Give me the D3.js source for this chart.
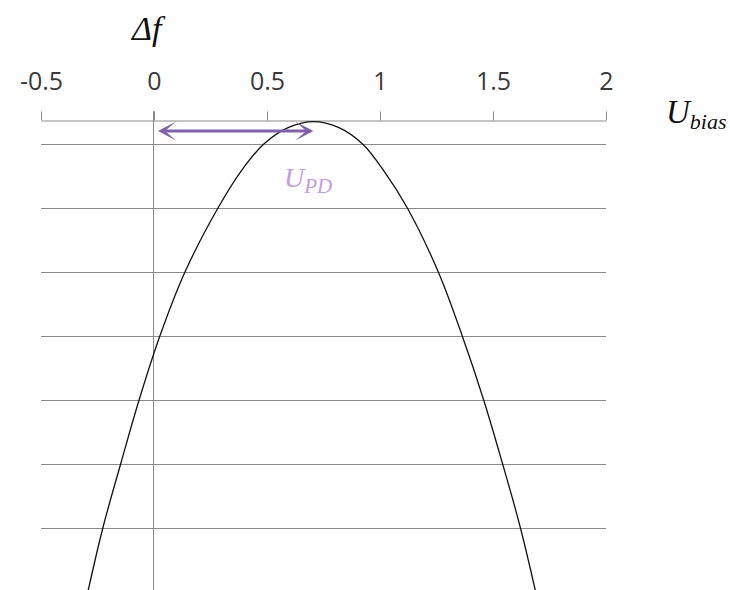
<!DOCTYPE html>
<html>
<head>
<meta charset="utf-8">
<script src="https://cdn.jsdelivr.net/npm/d3@7/dist/d3.min.js"></script>
<style>
  html, body { margin: 0; padding: 0; background: #fff; }
  svg { display: block; }
</style>
</head>
<body>
<svg id="chart" width="730" height="590"></svg>
<script>
// Bias voltage (x) and frequency shift (y) of the response curve
const biasValues = [-0.291, -0.225, -0.146, -0.066, 0.026, 0.137, 0.283, 0.384, 0.486, 0.596, 0.706,
                    0.816, 0.923, 1.017, 1.121, 1.258, 1.364, 1.457, 1.541, 1.620, 1.687];
const shiftValues = [-6.97, -5.98, -4.98, -4.00, -3.00, -2.00, -1.00, -0.43, 0.00, 0.26, 0.35,
                     0.26, 0.00, -0.42, -1.00, -2.00, -3.00, -3.98, -4.98, -5.98, -6.97];
// Axis ticks and gridlines
const xTicks = [-0.5, 0, 0.5, 1, 1.5, 2];
const xTickLabels = ["-0.5", "0", "0.5", "1", "1.5", "2"];
const yGrid = [0, -1, -2, -3, -4, -5, -6, -7];
// Photodiode voltage marked by the arrow (from 0 to the curve maximum)
const upd = 0.705;

const svg = d3.select("#chart");
const plotLeft = 41, plotRight = 606, plotTop = 121.6, plotBottom = 592;

const x = d3.scaleLinear().domain([-0.5, 2]).range([plotLeft, plotRight]);
const y = d3.scaleLinear().domain([-7, 0.35]).range([plotBottom, plotTop]);

const gridColor = "#8a8a8a";

// Horizontal gridlines
svg.append("g")
  .selectAll("line")
  .data(yGrid)
  .join("line")
  .attr("x1", plotLeft).attr("x2", plotRight)
  .attr("y1", d => Math.round(y(d)) + 0.5).attr("y2", d => Math.round(y(d)) + 0.5)
  .attr("stroke", gridColor).attr("stroke-width", 1);

// Vertical axis at U = 0
svg.append("line")
  .attr("x1", Math.round(x(0)) - 0.5).attr("x2", Math.round(x(0)) - 0.5)
  .attr("y1", 111).attr("y2", plotBottom)
  .attr("stroke", gridColor).attr("stroke-width", 1);

// Horizontal axis along the top
const xAxis = d3.axisTop(x)
  .tickValues(xTicks)
  .tickFormat((d, i) => xTickLabels[i])
  .tickSize(9)
  .tickSizeOuter(0)
  .tickPadding(22);

const gx = svg.append("g")
  .attr("transform", `translate(0,${Math.round(y(0.35)) - 1.5})`)
  .call(xAxis);
gx.select(".domain").attr("stroke", gridColor);
gx.selectAll(".tick line").attr("stroke", gridColor);
gx.selectAll(".tick text")
  .attr("fill", "#3a3a3a")
  .style("font-family", "'Open Sans', sans-serif")
  .style("font-size", "25px");

// Response curve
svg.append("clipPath").attr("id", "plotClip")
  .append("rect").attr("x", 0).attr("y", 0).attr("width", 730).attr("height", plotBottom);

const pts = biasValues.map((v, i) => [v, shiftValues[i]]);
svg.append("path")
  .datum(pts)
  .attr("clip-path", "url(#plotClip)")
  .attr("fill", "none")
  .attr("stroke", "#111")
  .attr("stroke-width", 1.3)
  .attr("d", d3.line().x(d => x(d[0])).y(d => y(d[1])).curve(d3.curveCatmullRom.alpha(0.5)));

// Double-headed arrow showing U_PD
const arrowColor = "#7f62a6";
const ay = 131;
const x0 = x(0) + 4, x1 = x(upd);
const headLen = 18, headHalf = 9.5, notch = 7;
svg.append("line")
  .attr("x1", x0 + notch).attr("x2", x1 - notch)
  .attr("y1", ay).attr("y2", ay)
  .attr("stroke", arrowColor).attr("stroke-width", 3.2);
svg.append("path")
  .attr("fill", arrowColor)
  .attr("d", `M${x0},${ay} L${x0 + headLen},${ay - headHalf} L${x0 + notch},${ay} L${x0 + headLen},${ay + headHalf} Z`);
svg.append("path")
  .attr("fill", arrowColor)
  .attr("d", `M${x1},${ay} L${x1 - headLen},${ay - headHalf} L${x1 - notch},${ay} L${x1 - headLen},${ay + headHalf} Z`);

// Math labels
const mathFont = "'Liberation Serif', 'DejaVu Serif', serif";

svg.append("text")
  .attr("x", 132).attr("y", 40)
  .style("font-family", mathFont).style("font-style", "italic")
  .style("font-size", "34px").attr("fill", "#111")
  .text("Δf");

const ub = svg.append("text")
  .attr("x", 666).attr("y", 123)
  .style("font-family", mathFont).style("font-style", "italic")
  .attr("fill", "#111");
ub.append("tspan").style("font-size", "33px").text("U");
ub.append("tspan").style("font-size", "22px").attr("dy", 6).text("bias");

const up = svg.append("text")
  .attr("x", 284).attr("y", 187)
  .style("font-family", mathFont).style("font-style", "italic")
  .attr("fill", "#c39be6");
up.append("tspan").style("font-size", "28px").text("U");
up.append("tspan").style("font-size", "21px").attr("dy", 6).text("PD");
</script>
</body>
</html>
